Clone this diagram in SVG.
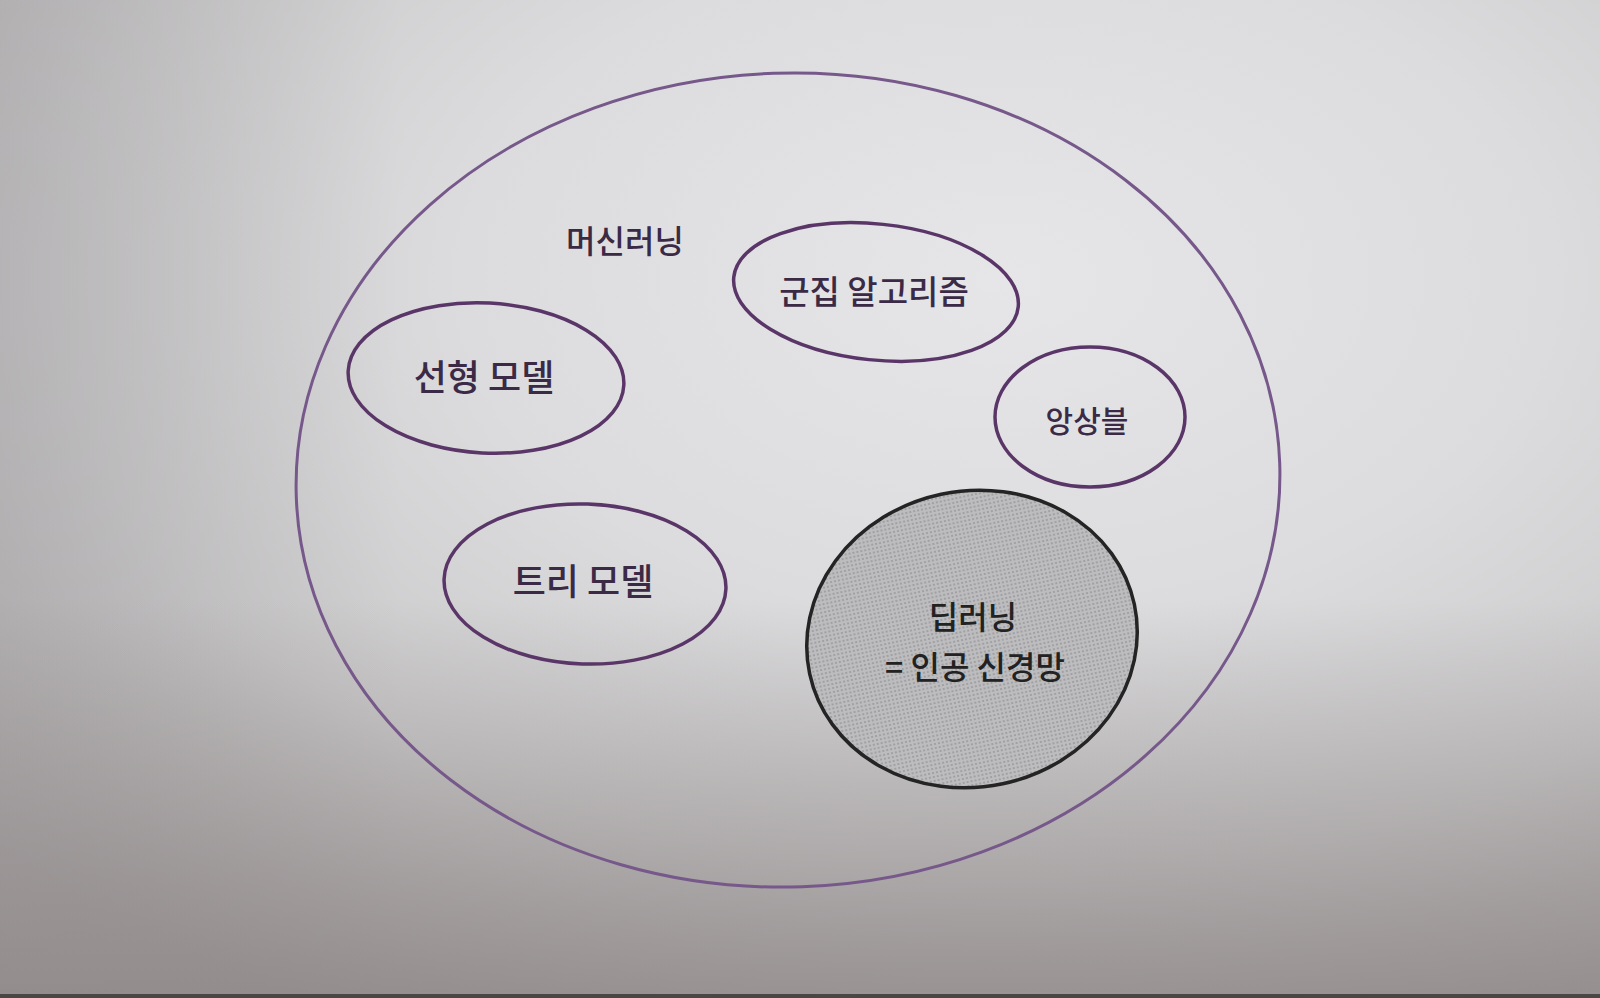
<svg xmlns="http://www.w3.org/2000/svg" width="1600" height="998" viewBox="0 0 1600 998">
<defs>
  <radialGradient id="paper" cx="0.63" cy="0.28" r="0.85">
    <stop offset="0" stop-color="#e6e6e8"/>
    <stop offset="0.4" stop-color="#dcdcde"/>
    <stop offset="0.7" stop-color="#cac9ca"/>
    <stop offset="1" stop-color="#aca7a7"/>
  </radialGradient>
  <linearGradient id="bottomShade" x1="0" y1="0" x2="0" y2="1">
    <stop offset="0.6" stop-color="#8a8282" stop-opacity="0"/>
    <stop offset="1" stop-color="#867e7e" stop-opacity="0.65"/>
  </linearGradient>
  <linearGradient id="leftShade" x1="0" y1="0" x2="1" y2="0">
    <stop offset="0" stop-color="#a8a6a8" stop-opacity="0.55"/>
    <stop offset="0.25" stop-color="#a8a6a8" stop-opacity="0"/>
  </linearGradient>
  <pattern id="dots" width="4" height="4" patternUnits="userSpaceOnUse">
    <rect width="4" height="4" fill="#bdbdbf"/>
    <circle cx="2" cy="2" r="1.1" fill="#9a9a9c"/>
  </pattern>
  <style>
    .lbl { font-family: "Noto Sans CJK KR", "Noto Sans", sans-serif; font-weight: 500; fill: #3a2a46; text-anchor: middle; }
    .sub { fill: none; stroke: #5a3668; stroke-width: 3.5; }
    .dark { fill: #222222; }
  </style>
</defs>

<rect x="0" y="0" width="1600" height="998" fill="url(#paper)"/>
<rect x="0" y="0" width="1600" height="998" fill="url(#leftShade)"/>
<rect x="0" y="0" width="1600" height="998" fill="url(#bottomShade)"/>
<rect x="0" y="994" width="1600" height="4" fill="#4a4646"/>

<g id="machine-learning">
  <ellipse cx="788" cy="480" rx="492" ry="407" transform="rotate(-2 788 480)" fill="none" stroke="#76588a" stroke-width="3"/>
  <text class="lbl" x="625" y="253" font-size="32" font-weight="700">머신러닝</text>
</g>

<g id="clustering">
  <ellipse class="sub" cx="876" cy="292" rx="143" ry="68" transform="rotate(6 876 292)"/>
  <text class="lbl" x="874" y="304" font-size="33">군집 알고리즘</text>
</g>

<g id="linear-model">
  <ellipse class="sub" cx="486" cy="378" rx="138" ry="75" transform="rotate(3 486 378)"/>
  <text class="lbl" x="484" y="391" font-size="36">선형 모델</text>
</g>

<g id="ensemble">
  <ellipse class="sub" cx="1090" cy="417" rx="95" ry="70"/>
  <text class="lbl" x="1087" y="432" font-size="30">앙상블</text>
</g>

<g id="tree-model">
  <ellipse class="sub" cx="585" cy="584" rx="141" ry="80" transform="rotate(2 585 584)"/>
  <text class="lbl" x="583" y="595" font-size="36">트리 모델</text>
</g>

<g id="deep-learning">
  <ellipse cx="972" cy="639" rx="166" ry="148" transform="rotate(-12 972 639)" fill="url(#dots)" stroke="#242424" stroke-width="3.5"/>
  <text class="lbl dark" x="973" y="629" font-size="32">딥러닝</text>
  <text class="lbl dark" x="975" y="679" font-size="32">= 인공 신경망</text>
</g>

<g id="connectors"></g>
</svg>
